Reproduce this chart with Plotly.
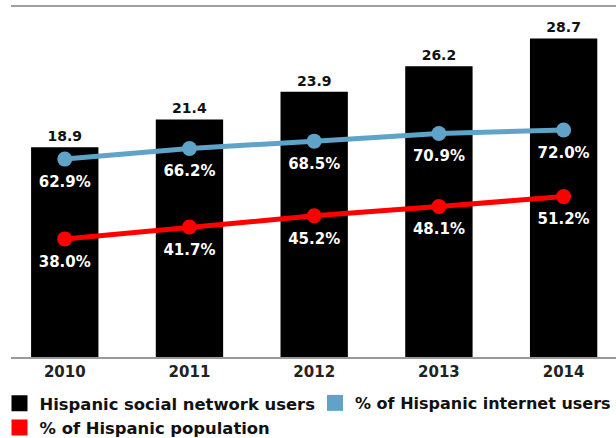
import plotly.graph_objects as go

years = ["2010", "2011", "2012", "2013", "2014"]
social_users = [18.9, 21.4, 23.9, 26.2, 28.7]
pct_internet = [62.9, 66.2, 68.5, 70.9, 72.0]
pct_population = [38.0, 41.7, 45.2, 48.1, 51.2]

names = ["Hispanic social network users", "% of Hispanic internet users", "% of Hispanic population"]
BLACK = "#000000"
BLUE = "#5fa3c8"
RED = "#ff0000"
FONT = "DejaVu Sans"

fig = go.Figure()
fig.add_trace(go.Bar(
    x=years, y=social_users, name=names[0], showlegend=False,
    marker=dict(color=BLACK, line=dict(width=0)), width=0.54,
    text=[f"{v:.1f}" for v in social_users], textposition="outside",
    textfont=dict(family=FONT, size=14, color="#111111", weight="bold"), cliponaxis=False,
))
for series, color in ((pct_internet, BLUE), (pct_population, RED)):
    fig.add_trace(go.Scatter(
        x=years, y=series, yaxis="y2", mode="lines+markers",
        line=dict(color=color, width=5), marker=dict(color=color, size=15),
        showlegend=False, cliponaxis=False, hoverinfo="skip",
    ))
    fig.add_trace(go.Scatter(
        x=years, y=series, yaxis="y2", mode="markers+text",
        marker=dict(color="rgba(0,0,0,0)", size=25),
        text=[f"{v:.1f}%" for v in series], textposition="bottom center",
        textfont=dict(family=FONT, size=15, color="#ffffff", weight="bold"),
        showlegend=False, cliponaxis=False,
    ))

# legend entries (square swatches); blue one sits in a second legend to its right
for name, color, leg in zip(names, (BLACK, BLUE, RED), ("legend", "legend2", "legend")):
    fig.add_trace(go.Scatter(
        x=[None], y=[None], mode="markers", name=name, legend=leg,
        marker=dict(symbol="square", size=16, color=color),
    ))

legend_common = dict(
    orientation="v", xref="paper", xanchor="left",
    yref="paper", y=-0.0826, yanchor="top",
    itemwidth=30, tracegroupgap=0, traceorder="normal",
    bgcolor="rgba(0,0,0,0)",
)

fig.update_layout(
    width=616, height=438,
    margin=dict(l=11, r=0, t=6, b=81, autoexpand=False),
    paper_bgcolor="white", plot_bgcolor="white",
    barmode="overlay",
    font=dict(family=FONT, size=14, color="#111111"),
    xaxis=dict(
        type="category", range=[-0.431, 4.42],
        showline=True, linecolor="#999999", linewidth=2,
        showgrid=False, ticks="",
        tickfont=dict(family=FONT, size=15, color="#222222", weight="bold"),
    ),
    yaxis=dict(range=[0, 31.62], visible=False, showgrid=False),
    yaxis2=dict(range=[1.15, 110.67], overlaying="y", visible=False, showgrid=False),
    legend=dict(legend_common, x=-0.019,
                font=dict(family=FONT, size=16.4, color="#111111", weight="bold")),
    legend2=dict(legend_common, x=0.5025,
                 font=dict(family=FONT, size=16, color="#111111", weight="bold")),
    shapes=[dict(type="line", xref="paper", yref="paper", x0=0, x1=1, y0=1, y1=1,
                 line=dict(color="#a0a0a0", width=2))],
    showlegend=True,
)

fig.write_html("out.html", config={"displayModeBar": False},
               post_script="document.body.style.margin='0';")
